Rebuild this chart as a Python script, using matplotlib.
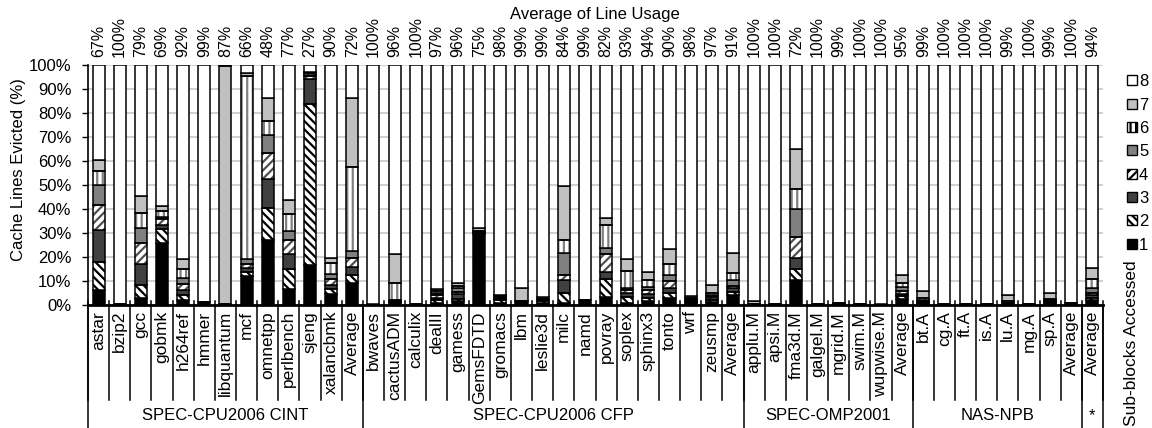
import matplotlib
matplotlib.use("Agg")
import matplotlib.pyplot as plt
import matplotlib.transforms as mtransforms
from matplotlib.patches import Patch
import numpy as np

plt.rcParams['font.family'] = ['Liberation Sans', 'DejaVu Sans']
plt.rcParams['hatch.linewidth'] = 1.6

benchmarks = ['astar', 'bzip2', 'gcc', 'gobmk', 'h264ref', 'hmmer', 'libquantum', 'mcf',
              'omnetpp', 'perlbench', 'sjeng', 'xalancbmk', 'Average',
              'bwaves', 'cactusADM', 'calculix', 'dealII', 'gamess', 'GemsFDTD', 'gromacs',
              'lbm', 'leslie3d', 'milc', 'namd', 'povray', 'soplex', 'sphinx3', 'tonto',
              'wrf', 'zeusmp', 'Average',
              'applu.M', 'apsi.M', 'fma3d.M', 'galgel.M', 'mgrid.M', 'swim.M', 'wupwise.M', 'Average',
              'bt.A', 'cg.A', 'ft.A', 'is.A', 'lu.A', 'mg.A', 'sp.A', 'Average',
              'Average']

groups = ['SPEC-CPU2006 CINT', 'SPEC-CPU2006 CFP', 'SPEC-OMP2001', 'NAS-NPB', '*']
group_sizes = [13, 18, 8, 8, 1]

line_usage = [67, 100, 79, 69, 92, 99, 87, 66, 48, 77, 27, 90, 72,
              100, 96, 100, 97, 96, 75, 98, 99, 99, 84, 99, 82, 93, 94, 90, 98, 97, 91,
              100, 100, 72, 100, 99, 100, 100, 95,
              99, 100, 100, 100, 99, 100, 99, 100,
              94]

# share of evicted lines (%) by number of sub-blocks accessed (1..7); 8 is the rest
sb1 = [6.1, 0.3, 3.0, 26.0, 2.0, 1.2, 0.3, 12.1, 27.0, 6.5, 16.7, 4.4, 9.3,
       0.0, 1.0, 0.3, 1.0, 1.7, 29.4, 1.0, 1.7, 1.0, 1.0, 2.1, 3.3, 1.0, 1.7, 2.8, 0.7, 1.4, 4.2,
       0.3, 0.3, 10.3, 0.5, 0.4, 0.3, 0.0, 2.4,
       0.6, 0.3, 0.3, 0.3, 1.0, 0.3, 1.0, 0.8,
       2.1]
sb2 = [11.9, 0, 5.2, 5.8, 2.2, 0, 0, 1.8, 13.3, 8.4, 67.0, 2.1, 3.2,
       0, 0.3, 0, 1.1, 0.9, 0.6, 1.1, 0, 0.5, 4.1, 0, 7.4, 2.5, 1.3, 2.1, 0.4, 0.7, 1.4,
       0, 0, 4.6, 0, 0, 0, 0, 1.35,
       0.3, 0, 0, 0, 0, 0, 0.4, 0,
       0.9]
sb3 = [13.2, 0, 8.8, 1.5, 1.9, 0, 0, 1.4, 12.1, 6.2, 10.3, 1.8, 3.3,
       0, 0.3, 0, 0.9, 1.8, 0.4, 0.5, 0, 0.5, 5.2, 0, 3.2, 1.6, 1.4, 2.0, 0.6, 0.5, 1.6,
       0, 0, 4.8, 0, 0.3, 0, 0, 0.95,
       0.4, 0, 0, 0, 0, 0, 0.4, 0,
       1.2]
sb4 = [10.3, 0, 8.7, 2.4, 2.8, 0, 0, 1.7, 11.1, 5.9, 1.3, 2.4, 3.6,
       0, 0.3, 0, 1.2, 1.2, 0.2, 0.4, 0, 0.3, 2.1, 0, 7.2, 1.3, 1.7, 3.1, 0.4, 0.7, 0.7,
       0, 0, 8.8, 0, 0, 0, 0, 1.1,
       0.4, 0, 0, 0, 0, 0, 0.4, 0,
       0.9]
sb5 = [8.5, 0, 6.3, 1.1, 2.5, 0, 0, 2.0, 7.3, 3.8, 0.7, 2.4, 3.1,
       0, 0.3, 0, 0.9, 1.3, 0.2, 0.5, 0, 0, 9.1, 0, 2.8, 0.8, 1.4, 2.4, 0.4, 0.7, 2.4,
       0, 0, 11.6, 0, 0, 0, 0, 1.7,
       0.4, 0, 0, 0, 0, 0, 0.4, 0,
       2.1]
sb6 = [6.0, 0, 6.5, 2.4, 3.5, 0, 0, 76.4, 6.0, 7.0, 0.5, 4.5, 35.1,
       0, 6.8, 0, 0.7, 1.1, 0.0, 0.25, 0, 0, 5.6, 0, 9.4, 7.0, 2.9, 4.8, 0.5, 1.1, 3.2,
       0, 0, 8.4, 0, 0, 0, 0, 1.8,
       0.9, 0, 0, 0, 0.7, 0, 0, 0,
       3.5]
sb7 = [4.3, 0, 6.9, 2.0, 4.4, 0, 99.2, 1.1, 9.3, 5.8, 0.7, 2.1, 28.5,
       0.3, 12.4, 0, 0.7, 1.0, 1.2, 0.45, 5.2, 1.0, 22.5, 0, 3.1, 5.1, 3.35, 6.0, 0.75, 3.2, 8.3,
       1.5, 0, 16.5, 0, 0, 0, 0.4, 3.1,
       2.8, 0, 0, 0, 2.3, 0, 2.3, 0,
       4.6]

segments = [sb1, sb2, sb3, sb4, sb5, sb6, sb7]
segments.append([100 - sum(v) for v in zip(*segments)])

# (face, hatch, hatch colour) for sub-blocks 1..8
styles = [('black', None, 'black'),
          ('white', '\\\\\\\\', 'black'),
          ('#404040', None, 'black'),
          ('white', '////', '#505050'),
          ('#808080', None, 'black'),
          ('white', '|||', '#808080'),
          ('#c0c0c0', None, 'black'),
          ('white', None, 'black')]

W, H = 1152, 428
fig = plt.figure(figsize=(W / 100, H / 100), dpi=100)
ax = fig.add_axes([88 / W, 1 - 305 / H, (1103 - 88) / W, 240 / H])

x = np.arange(len(benchmarks))
width = 0.57
bottom = np.zeros(len(benchmarks))
for vals, (face, hatch, hcol) in zip(segments, styles):
    vals = np.array(vals)
    if hatch:
        ax.bar(x, vals, width, bottom=bottom, color=face, edgecolor=hcol,
               hatch=hatch, linewidth=0, zorder=2)
        ax.bar(x, vals, width, bottom=bottom, fill=False, edgecolor='black',
               linewidth=1.1, zorder=3)
    else:
        ax.bar(x, vals, width, bottom=bottom, color=face, edgecolor='black',
               linewidth=1.1, zorder=2)
    bottom += vals

ax.set_xlim(-0.5, len(benchmarks) - 0.5)
ax.set_ylim(0, 100)
ax.set_yticks(np.arange(0, 101, 10))
ax.set_yticklabels([f'{v}%' for v in range(0, 101, 10)], fontsize=12)
ax.tick_params(axis='y', length=4, width=1, pad=8)
ax.yaxis.grid(True, color='#c8c8c8', linewidth=1.2, zorder=0)
ax.set_axisbelow(True)
ax.set_xticks([])
for s in ['top', 'right']:
    ax.spines[s].set_visible(False)
ax.spines['left'].set_linewidth(1.2)
ax.spines['bottom'].set_linewidth(2)

trans = mtransforms.blended_transform_factory(ax.transData, ax.transAxes)

# percentages on top
for i, u in enumerate(line_usage):
    ax.text(i, 1.035, f'{u}%', transform=trans, rotation=90, ha='center',
            va='bottom', fontsize=11.5)

# benchmark names
for i, name in enumerate(benchmarks):
    ax.text(i, -0.025, name, transform=trans, rotation=90, ha='center',
            va='top', fontsize=12.5)

# separators between benchmarks
for b in np.arange(len(benchmarks) + 1) - 0.5:
    ax.plot([b, b], [0.015, -0.395], transform=trans, color='black',
            linewidth=1.1, clip_on=False)

# group separators and names
edges = np.concatenate([[0], np.cumsum(group_sizes)]) - 0.5
for e in edges:
    ax.plot([e, e], [0, -0.52], transform=trans, color='black',
            linewidth=1.1, clip_on=False)
for g, a, b in zip(groups, edges[:-1], edges[1:]):
    ax.text((a + b) / 2, -0.46, g, transform=trans, ha='center', va='center',
            fontsize=12)

fig.text(595 / W, 1 - 14 / H, 'Average of Line Usage', ha='center', va='center',
         fontsize=12)
fig.text(19 / W, 1 - 170 / H, 'Cache Lines Evicted (%)', rotation=90,
         ha='center', va='center', fontsize=12)
fig.text(1131 / W, 1 - 343 / H, 'Sub-blocks Accessed', rotation=90,
         ha='center', va='center', fontsize=12.5)

handles = []
for k in range(7, -1, -1):
    face, hatch, hcol = styles[k]
    handles.append(Patch(facecolor=face, edgecolor='black', hatch=hatch,
                         linewidth=1, label=str(k + 1)))
fig.legend(handles=handles, loc='upper left', bbox_to_anchor=(1119 / W, 1 - 66 / H),
           frameon=False, fontsize=12, handlelength=0.55, handleheight=0.55,
           handletextpad=0.15, labelspacing=0.5, borderpad=0)

fig.savefig('out.png', dpi=100)
